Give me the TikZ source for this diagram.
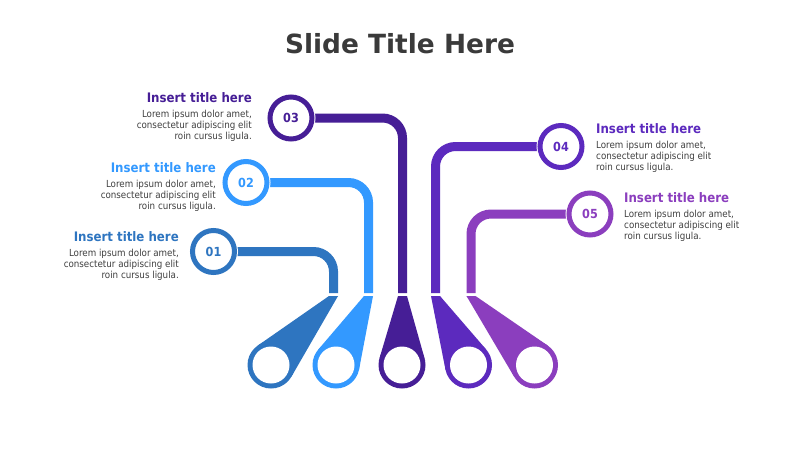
\documentclass[tikz,border=0pt]{standalone}
\usepackage{fontspec}
\setmainfont{DejaVu Sans Condensed}
\newfontfamily\titlefont{DejaVu Sans}
\usetikzlibrary{calc}
\definecolor{cA}{HTML}{2E75C0}
\definecolor{cB}{HTML}{3399FF}
\definecolor{cC}{HTML}{461E96}
\definecolor{cD}{HTML}{5C2ABE}
\definecolor{cE}{HTML}{8B3EBE}
\definecolor{tgray}{HTML}{3A3A3A}
\definecolor{bgray}{HTML}{404040}
\tikzset{
  conn/.style={line width=9pt, rounded corners=20pt},
  ring/.style={circle, fill=white, draw=#1, line width=5pt, minimum size=42pt, inner sep=0pt,
    text=#1, font=\bfseries\fontsize{12.5}{14}\selectfont},
  halo/.style={circle, fill=white, minimum size=49pt, inner sep=0pt},
  bulb/.style={circle, minimum size=47pt, inner sep=0pt, outer sep=0pt},
  ttl/.style={font=\bfseries\fontsize{13.1}{15}\selectfont, inner sep=0pt, text=#1},
  bodytxt/.style={font=\fontsize{9.7}{11.3}\selectfont, inner sep=0pt, text=bgray},
}
\newcommand{\drop}[3]{% #1 bulb name, #2 stub x, #3 colour
  \coordinate (#1l) at (#2-4.5,296);
  \coordinate (#1r) at (#2+4.5,296);
  \fill[#3] (#1l) -- (tangent cs:node=#1,point={(#1l)},solution=1) -- (#1.center)
     -- (tangent cs:node=#1,point={(#1l)},solution=2) -- cycle;
  \fill[#3] (#1r) -- (tangent cs:node=#1,point={(#1r)},solution=1) -- (#1.center)
     -- (tangent cs:node=#1,point={(#1r)},solution=2) -- cycle;
  \fill[#3] (#1l) -- (#1r) -- (#1.center) -- cycle;
  \fill[#3] (#1.center) circle[radius=23.5pt];
  \fill[white] (#1.center) circle[radius=18.5pt];
}
\begin{document}
\begin{tikzpicture}[x=1pt,y=-1pt]
\useasboundingbox[fill=white] (0,0) rectangle (800,450);

\node[font=\titlefont\bfseries\fontsize{26.4}{30}\selectfont, text=tgray, anchor=base, inner sep=0pt] (title) at (400,53) {Slide Title Here};

% positions of numbered rings
\coordinate (p1) at (213.5,251.5);
\coordinate (p2) at (246,182.5);
\coordinate (p3) at (291,118);
\coordinate (p4) at (561,146.5);
\coordinate (p5) at (590,214);
% stub ends
\coordinate (s1) at (333.5,293);
\coordinate (s2) at (368.5,293);
\coordinate (s3) at (402.5,293);
\coordinate (s4) at (435.5,293);
\coordinate (s5) at (471,293);

\draw[conn, cA] (p1) -| (s1);
\draw[conn, cB] (p2) -| (s2);
\draw[conn, cC] (p3) -| (s3);
\draw[conn, cD] (p4) -| (s4);
\draw[conn, cE] (p5) -| (s5);

\foreach \k in {1,...,5} { \node[halo] (h\k) at (p\k) {}; }
\node[ring=cA] (c1) at (p1) {01};
\node[ring=cB] (c2) at (p2) {02};
\node[ring=cC] (c3) at (p3) {03};
\node[ring=cD] (c4) at (p4) {04};
\node[ring=cE] (c5) at (p5) {05};

% bulbs
\node[bulb] (b1) at (271,365) {};
\node[bulb] (b2) at (336,365) {};
\node[bulb] (b3) at (402,365) {};
\node[bulb] (b4) at (468.5,365) {};
\node[bulb] (b5) at (534.5,365) {};
\drop{b1}{333.5}{cA}
\drop{b2}{368.5}{cB}
\drop{b3}{402.5}{cC}
\drop{b4}{435.5}{cD}
\drop{b5}{471}{cE}

% texts left
\node[ttl=cC, anchor=base east] (t3) at (252,102) {Insert title here};
\node[bodytxt, anchor=base east] (d3) at (252,117) {\begin{tabular}[t]{@{}r@{}}Lorem ipsum dolor amet,\\consectetur adipiscing elit\\roin cursus ligula.\end{tabular}};
\node[ttl=cB, anchor=base east] (t2) at (216,172) {Insert title here};
\node[bodytxt, anchor=base east] (d2) at (216,187) {\begin{tabular}[t]{@{}r@{}}Lorem ipsum dolor amet,\\consectetur adipiscing elit\\roin cursus ligula.\end{tabular}};
\node[ttl=cA, anchor=base east] (t1) at (179,241) {Insert title here};
\node[bodytxt, anchor=base east] (d1) at (179,256) {\begin{tabular}[t]{@{}r@{}}Lorem ipsum dolor amet,\\consectetur adipiscing elit\\roin cursus ligula.\end{tabular}};
% texts right
\node[ttl=cD, anchor=base west] (t4) at (596,133) {Insert title here};
\node[bodytxt, anchor=base west] (d4) at (596,148) {\begin{tabular}[t]{@{}l@{}}Lorem ipsum dolor amet,\\consectetur adipiscing elit\\roin cursus ligula.\end{tabular}};
\node[ttl=cE, anchor=base west] (t5) at (624,202) {Insert title here};
\node[bodytxt, anchor=base west] (d5) at (624,217) {\begin{tabular}[t]{@{}l@{}}Lorem ipsum dolor amet,\\consectetur adipiscing elit\\roin cursus ligula.\end{tabular}};
\end{tikzpicture}
\end{document}
